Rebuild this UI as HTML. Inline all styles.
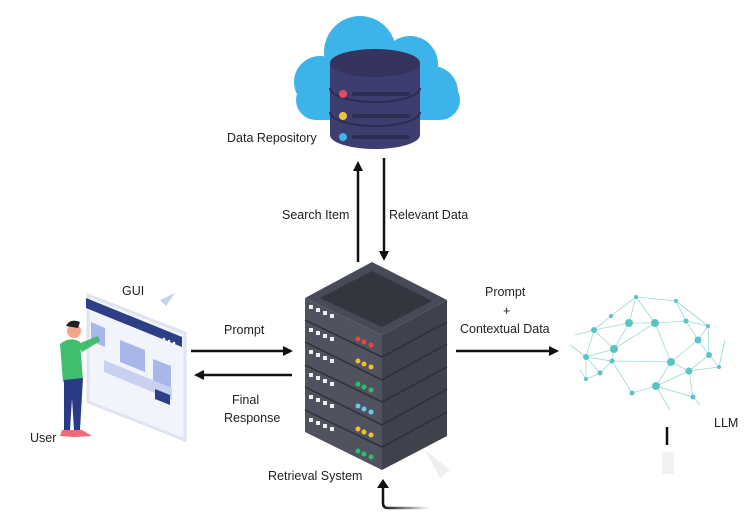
<!DOCTYPE html>
<html><head><meta charset="utf-8"><style>
html,body{margin:0;padding:0;background:#fff;}
svg{display:block;}
text{font-family:"Liberation Sans",sans-serif;font-size:12.5px;fill:#222;}
</style></head><body>
<svg width="751" height="523" viewBox="0 0 751 523" xmlns="http://www.w3.org/2000/svg">
<defs>
<marker id="ah" markerWidth="10" markerHeight="10" refX="7" refY="5" orient="auto" markerUnits="userSpaceOnUse"><path d="M0,0 L10,5 L0,10 Z" fill="#111"/></marker>
<linearGradient id="fade" x1="0" x2="1"><stop offset="0" stop-color="#111"/><stop offset="1" stop-color="#111" stop-opacity="0"/></linearGradient>
</defs>
<!-- Cloud -->
<g fill="#3cb4ea">
<circle cx="360" cy="52" r="36"/><circle cx="410" cy="64" r="28"/><circle cx="432" cy="92" r="26"/><circle cx="320" cy="82" r="26"/>
<rect x="296" y="80" width="164" height="40" rx="20"/>
</g>
<!-- DB -->
<path d="M330,63 v72 a45,14 0 0 0 90,0 v-72 z" fill="#3d3d70"/>
<ellipse cx="375" cy="63" rx="45" ry="14" fill="#34345f"/>
<path d="M330,88 a45,14 0 0 0 90,0 M330,112 a45,14 0 0 0 90,0" stroke="#2c2c52" stroke-width="2" fill="none"/>
<circle cx="343" cy="94" r="4" fill="#e94b5b"/><circle cx="343" cy="116" r="4" fill="#f4c23a"/><circle cx="343" cy="137" r="4" fill="#3db3ee"/>
<rect x="352" y="92" width="58" height="4" rx="2" fill="#2e2e55"/><rect x="352" y="114" width="58" height="4" rx="2" fill="#2e2e55"/><rect x="352" y="135" width="58" height="4" rx="2" fill="#2e2e55"/>
<text x="227" y="142">Data Repository</text>
<!-- vertical arrows -->
<line x1="358" y1="262" x2="358" y2="164" stroke="#111" stroke-width="2.5" marker-end="url(#ah)"/>
<line x1="384" y1="158" x2="384" y2="258" stroke="#111" stroke-width="2.5" marker-end="url(#ah)"/>
<text x="282" y="219">Search Item</text>
<text x="389" y="219">Relevant Data</text>
<!-- Server -->
<path d="M305,298 L372,262 L447,300 L382,335 Z" fill="#474a57"/>
<path d="M320,298 L372,271 L432,301 L382,327 Z" fill="#34363f"/>
<path d="M305,298 L382,335 L382,470 L305,432 Z" fill="#50535f"/>
<path d="M382,335 L447,300 L447,436 L382,470 Z" fill="#3f414c"/>
<g stroke="#2e3038" stroke-width="1.5" fill="none">
<path d="M305,320 L382,357 L447,322"/><path d="M305,342 L382,380 L447,344"/><path d="M305,365 L382,402 L447,367"/><path d="M305,387 L382,425 L447,389"/><path d="M305,410 L382,447 L447,412"/>
</g>
<g fill="#eee">
<rect x="309" y="305" width="4" height="4"/><rect x="316" y="308" width="4" height="4"/><rect x="323" y="311" width="4" height="4"/><rect x="330" y="314" width="4" height="4"/>
<rect x="309" y="328" width="4" height="4"/><rect x="316" y="331" width="4" height="4"/><rect x="323" y="334" width="4" height="4"/><rect x="330" y="337" width="4" height="4"/>
<rect x="309" y="350" width="4" height="4"/><rect x="316" y="353" width="4" height="4"/><rect x="323" y="356" width="4" height="4"/><rect x="330" y="359" width="4" height="4"/>
<rect x="309" y="373" width="4" height="4"/><rect x="316" y="376" width="4" height="4"/><rect x="323" y="379" width="4" height="4"/><rect x="330" y="382" width="4" height="4"/>
<rect x="309" y="395" width="4" height="4"/><rect x="316" y="398" width="4" height="4"/><rect x="323" y="401" width="4" height="4"/><rect x="330" y="404" width="4" height="4"/>
<rect x="309" y="418" width="4" height="4"/><rect x="316" y="421" width="4" height="4"/><rect x="323" y="424" width="4" height="4"/><rect x="330" y="427" width="4" height="4"/>
</g>
<g><circle cx="358" cy="339" r="2.5" fill="#e04a3a"/><circle cx="364" cy="342" r="2.5" fill="#e04a3a"/><circle cx="371" cy="345" r="2.5" fill="#e04a3a"/>
<circle cx="358" cy="361" r="2.5" fill="#f1c02c"/><circle cx="364" cy="364" r="2.5" fill="#f1c02c"/><circle cx="371" cy="367" r="2.5" fill="#f1c02c"/>
<circle cx="358" cy="384" r="2.5" fill="#2fbd6a"/><circle cx="364" cy="387" r="2.5" fill="#2fbd6a"/><circle cx="371" cy="390" r="2.5" fill="#2fbd6a"/>
<circle cx="358" cy="406" r="2.5" fill="#6ec6ef"/><circle cx="364" cy="409" r="2.5" fill="#6ec6ef"/><circle cx="371" cy="412" r="2.5" fill="#6ec6ef"/>
<circle cx="358" cy="429" r="2.5" fill="#f1c02c"/><circle cx="364" cy="432" r="2.5" fill="#f1c02c"/><circle cx="371" cy="435" r="2.5" fill="#f1c02c"/>
<circle cx="358" cy="451" r="2.5" fill="#2fbd6a"/><circle cx="364" cy="454" r="2.5" fill="#2fbd6a"/><circle cx="371" cy="457" r="2.5" fill="#2fbd6a"/></g>
<path d="M425,450 L450,470 L440,478 Z" fill="#e4e4e4" opacity="0.6"/>
<text x="268" y="480">Retrieval System</text>
<!-- bottom arrow -->
<path d="M430,508 L388,508 Q383,508 383,503 L383,486" stroke="url(#fade)" stroke-width="2.5" fill="none"/>
<path d="M377,488 L383,479 L389,488 Z" fill="#111"/>
<!-- horizontal arrows -->
<line x1="191" y1="351" x2="290" y2="351" stroke="#111" stroke-width="2.5" marker-end="url(#ah)"/>
<line x1="292" y1="375" x2="197" y2="375" stroke="#111" stroke-width="2.5" marker-end="url(#ah)"/>
<text x="224" y="334">Prompt</text>
<text x="232" y="404">Final</text><text x="224" y="422">Response</text>
<line x1="456" y1="351" x2="556" y2="351" stroke="#111" stroke-width="2.5" marker-end="url(#ah)"/>
<text x="485" y="296">Prompt</text><text x="503" y="315">+</text><text x="460" y="333">Contextual Data</text>
<!-- GUI -->
<path d="M88,295 L185,333 L185,440 L88,402 Z" fill="#f2f4fb" stroke="#dfe4f3" stroke-width="3"/>
<path d="M86,298 L182,337 L182,347 L86,308 Z" fill="#2d3f86"/>
<circle cx="164" cy="339" r="1.3" fill="#fff"/><circle cx="169" cy="341" r="1.3" fill="#fff"/><circle cx="174" cy="343" r="1.3" fill="#fff"/>
<path d="M91,322 L105,328 L105,347 L91,341 Z" fill="#a8b6e8"/>
<path d="M120,340 L145,350 L145,372 L120,362 Z" fill="#a8b6e8"/>
<path d="M153,359 L171,366 L171,388 L153,381 Z" fill="#a8b6e8"/>
<path d="M104,360 L172,388 L172,400 L104,372 Z" fill="#c8d2f0"/>
<path d="M155,389 L170,395 L170,405 L155,399 Z" fill="#2d3f86"/>
<path d="M160,300 L175,293 L166,306 Z" fill="#c5d3ea"/>
<text x="122" y="295">GUI</text>
<!-- person -->
<circle cx="74" cy="331" r="7" fill="#f4a48a"/>
<path d="M66,326 Q70,318 80,322 L78,328 Z" fill="#222"/>
<path d="M60,344 Q70,336 80,342 L83,380 L63,382 Z" fill="#3fbf6e"/>
<path d="M78,344 L98,336 L100,341 L82,352 Z" fill="#3fbf6e"/>
<path d="M64,380 L83,378 L80,430 L74,430 L72,398 L70,430 L64,430 Z" fill="#2a3a86"/>
<path d="M62,430 L72,430 L74,437 L60,436 Z M72,430 L82,430 L92,436 L74,437 Z" fill="#f06a7a"/>
<text x="30" y="442">User</text>
<!-- brain -->
<g stroke="#9ad8d8" stroke-width="0.8" fill="none">
<path d="M636,297 L655,323 L629,323 L594,330 L586,357 L612,361 L614,349 L629,323 L636,297 L611,316 L594,330 L614,349 L586,357 L600,373 L612,361 L632,393 L656,386 L671,362 L612,361"/>
<path d="M655,323 L686,321 L676,301 L636,297 M686,321 L698,340 L709,355 L689,371 L671,362 L655,323 L614,349 M698,340 L671,362 M686,321 L708,326 L709,355 L719,367 L689,371 L693,397 L656,386 L689,371 M708,326 L698,340 M586,379 L600,373 M586,357 L586,379 M676,301 L708,326 M719,367 L725,340 M570,345 L586,357 M575,335 L594,330 M580,370 L586,379 M656,386 L670,410 M693,397 L700,405"/>
</g>
<g fill="#5cc3c3">
<circle cx="636" cy="297" r="2"/><circle cx="655" cy="323" r="4"/><circle cx="629" cy="323" r="4"/><circle cx="594" cy="330" r="3"/><circle cx="614" cy="349" r="4"/><circle cx="586" cy="357" r="3"/><circle cx="612" cy="361" r="2.5"/><circle cx="671" cy="362" r="4"/><circle cx="689" cy="371" r="3.5"/><circle cx="698" cy="340" r="3.5"/><circle cx="709" cy="355" r="3"/><circle cx="686" cy="321" r="2.5"/><circle cx="676" cy="301" r="2"/><circle cx="656" cy="386" r="4"/><circle cx="632" cy="393" r="2.5"/><circle cx="693" cy="397" r="2.5"/><circle cx="600" cy="373" r="2.5"/><circle cx="611" cy="316" r="2"/><circle cx="586" cy="379" r="2"/><circle cx="719" cy="367" r="2"/><circle cx="708" cy="326" r="2"/>
</g>
<text x="714" y="427">LLM</text>
<line x1="667" y1="427" x2="667" y2="445" stroke="#111" stroke-width="2.5"/>
<rect x="662" y="452" width="12" height="22" fill="#e6e6e6" opacity="0.5"/>
</svg>
</body></html>
